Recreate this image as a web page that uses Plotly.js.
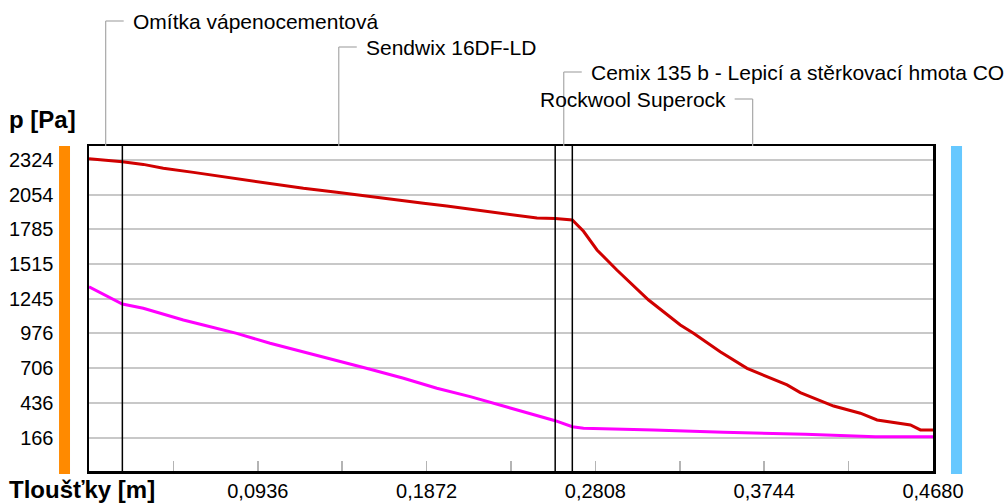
<!DOCTYPE html>
<html>
<head>
<meta charset="utf-8">
<script src="https://cdn.plot.ly/plotly-3.0.1.min.js"></script>
<style>
  html, body { margin: 0; padding: 0; background: #ffffff; }
  #chart { width: 1004px; height: 504px; }
</style>
</head>
<body>
<div id="chart"></div>
<script>
// ---- data ----
const layerNames = [
  "Omítka vápenocementová",
  "Sendwix 16DF-LD",
  "Cemix 135 b - Lepicí a stěrkovací hmota CON",
  "Rockwool Superock"
];
// layer interfaces [m]
const layerBounds = [0, 0.0185, 0.2585, 0.268, 0.468];

// saturated vapour pressure (red)
const xSat = [0, 0.0185, 0.0301, 0.0412, 0.0579, 0.0801, 0.0967, 0.1189, 0.1374, 0.1522,
  0.1688, 0.1855, 0.1984, 0.2151, 0.2317, 0.2484, 0.2585, 0.268, 0.2742, 0.2817,
  0.2927, 0.3103, 0.3279, 0.3352, 0.35, 0.3649, 0.3871, 0.3944, 0.4129, 0.4277,
  0.437, 0.4555, 0.461, 0.468];
const pSat = [2334, 2311, 2290, 2260, 2228, 2182, 2151, 2104, 2073, 2047,
  2013, 1988, 1967, 1935, 1904, 1873, 1869, 1858, 1770, 1625,
  1469, 1236, 1042, 977, 834, 705, 576, 516, 412, 356,
  304, 265, 226, 226];

// partial vapour pressure (magenta)
const xPart = [0, 0.0055, 0.0185, 0.0301, 0.0394, 0.0523, 0.0634, 0.0819, 0.1004, 0.1189,
  0.1374, 0.1559, 0.1744, 0.1929, 0.2114, 0.2298, 0.2484, 0.2585, 0.268, 0.2742,
  0.313, 0.3519, 0.3972, 0.436, 0.468];
const pPart = [1339, 1301, 1205, 1172, 1133, 1081, 1042, 977, 900, 834,
  762, 698, 628, 550, 485, 412, 342, 298, 251, 239,
  226, 208, 193, 174, 174];

const yTickVals = [166, 436, 706, 976, 1245, 1515, 1785, 2054, 2324];
const xTickVals = [0.0468, 0.0936, 0.1404, 0.1872, 0.234, 0.2808, 0.3276, 0.3744, 0.4212, 0.468];
const xTickText = ["", "0,0936", "", "0,1872", "", "0,2808", "", "0,3744", "", "0,4680"];

const yTitle = "p [Pa]";
const xTitle = "Tloušťky [m]";

// ---- layout helpers ----
const FONT = "Liberation Sans, Arial, sans-serif";
// leader rise above plot top (px) and text side for each layer
const leaderRise = [125, 99, 74, 47];
const leaderSide = [1, 1, 1, -1];

const shapes = [];
const annotations = [];

// layer interface lines
for (let i = 1; i < layerBounds.length - 1; i++) {
  shapes.push({type: "line", xref: "x", yref: "paper", x0: layerBounds[i], x1: layerBounds[i],
    y0: 0, y1: 1, line: {color: "#000000", width: 1.5}, layer: "above"});
}

// layer labels with leader lines
for (let i = 0; i < layerNames.length; i++) {
  const mid = (layerBounds[i] + layerBounds[i + 1]) / 2;
  const rise = leaderRise[i];
  const side = leaderSide[i];
  shapes.push({type: "line", xref: "x", yref: "paper", xsizemode: "pixel", ysizemode: "pixel",
    xanchor: mid, yanchor: 1, x0: 0, x1: 0, y0: 0, y1: rise,
    line: {color: "#a8a8a8", width: 1.2}});
  shapes.push({type: "line", xref: "x", yref: "paper", xsizemode: "pixel", ysizemode: "pixel",
    xanchor: mid, yanchor: 1, x0: 0, x1: 18 * side, y0: rise, y1: rise,
    line: {color: "#a8a8a8", width: 1.2}});
  annotations.push({text: layerNames[i], xref: "x", yref: "paper", x: mid, y: 1,
    xshift: 25 * side, yshift: rise, xanchor: side > 0 ? "left" : "right", yanchor: "middle",
    showarrow: false, font: {family: FONT, size: 21, color: "#000000"}});
}

// boundary condition bars (interior orange, exterior blue)
shapes.push({type: "rect", xref: "paper", yref: "paper", x0: -0.0355, x1: -0.0225, y0: -0.009, y1: 1,
  fillcolor: "#ff8a00", line: {width: 0}});
shapes.push({type: "rect", xref: "paper", yref: "paper", x0: 1.0213, x1: 1.0344, y0: -0.009, y1: 1,
  fillcolor: "#66c8ff", line: {width: 0}});

annotations.push({text: "<b>" + yTitle + "</b>", xref: "paper", yref: "paper", x: -0.097, y: 1.08,
  xanchor: "left", yanchor: "middle", showarrow: false, font: {family: FONT, size: 24, color: "#000"}});
annotations.push({text: "<b>" + xTitle + "</b>", xref: "paper", yref: "paper", x: -0.097, y: -0.058,
  xanchor: "left", yanchor: "middle", showarrow: false, font: {family: FONT, size: 24, color: "#000"}});

const traces = [
  {x: xSat, y: pSat, type: "scatter", mode: "lines", line: {color: "#d00000", width: 3}, hoverinfo: "skip"},
  {x: xPart, y: pPart, type: "scatter", mode: "lines", line: {color: "#ff00ff", width: 3}, hoverinfo: "skip"}
];

const layout = {
  width: 1004, height: 504,
  margin: {l: 89, r: 71, t: 146, b: 33, pad: 0},
  paper_bgcolor: "#ffffff", plot_bgcolor: "#ffffff",
  showlegend: false,
  font: {family: FONT, size: 20, color: "#000000"},
  xaxis: {
    range: [0, 0.468], tickmode: "array", tickvals: xTickVals, ticktext: xTickText,
    ticks: "inside", ticklen: 10, tickcolor: "#b4b4b4", tickwidth: 1.5,
    showgrid: false, zeroline: false, showline: true, mirror: true, linecolor: "#000000", linewidth: 2.5,
    ticklabelstandoff: 0, tickfont: {family: FONT, size: 20, color: "#000"}, fixedrange: true
  },
  yaxis: {
    range: [-93, 2433], tickmode: "array", tickvals: yTickVals,
    ticks: "", showgrid: true, gridcolor: "#c8c8c8", gridwidth: 2,
    zeroline: false, showline: true, mirror: true, linecolor: "#000000", linewidth: 2.5,
    ticklabelstandoff: 29, tickfont: {family: FONT, size: 20, color: "#000"}, fixedrange: true
  },
  shapes: shapes,
  annotations: annotations
};

Plotly.newPlot("chart", traces, layout, {staticPlot: true, displayModeBar: false});
</script>
</body>
</html>
